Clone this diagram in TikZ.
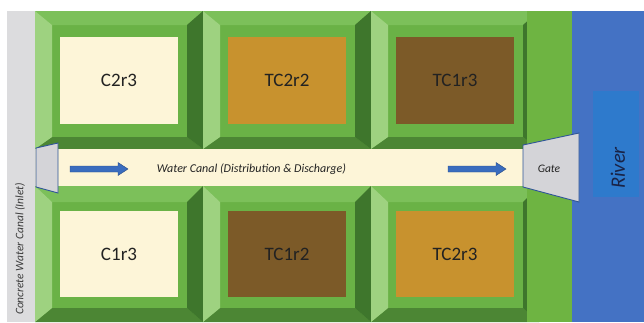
\documentclass[tikz,border=0pt]{standalone}
\usepackage{fontspec}
\setmainfont{Carlito}
\definecolor{bvflat}{RGB}{106,178,70}
\definecolor{bvtop}{RGB}{124,192,90}
\definecolor{bvleft}{RGB}{158,210,128}
\definecolor{bvright}{RGB}{62,118,44}
\definecolor{bvbot}{RGB}{76,134,52}
\definecolor{cream}{RGB}{253,245,216}
\definecolor{ochre}{RGB}{200,146,46}
\definecolor{soil}{RGB}{124,90,40}
\definecolor{concrete}{RGB}{220,220,222}
\definecolor{strip}{RGB}{110,180,66}
\definecolor{river}{RGB}{68,114,196}
\definecolor{riverbox}{RGB}{46,122,204}
\definecolor{gatefill}{RGB}{212,212,216}
\definecolor{gateline}{RGB}{47,85,151}
\definecolor{arrowblue}{RGB}{58,108,190}
\definecolor{txt}{RGB}{34,34,34}
\newcommand\fieldblock[9]{%
  % #1 x0, #2 y0, #3 y1, #4 top bevel, #5 bottom bevel, #6 cy0, #7 cy1, #8 colour, #9 label
  \fill[bvflat] (#1,#2) rectangle ({#1+168},#3);
  \fill[bvtop] (#1,#2) -- ({#1+168},#2) -- ({#1+152},{#2+#4}) -- ({#1+17},{#2+#4}) -- cycle;
  \fill[bvbot] (#1,#3) -- ({#1+168},#3) -- ({#1+152},{#3-#5}) -- ({#1+17},{#3-#5}) -- cycle;
  \fill[bvleft] (#1,#2) -- ({#1+17},{#2+#4}) -- ({#1+17},{#3-#5}) -- (#1,#3) -- cycle;
  \fill[bvright] ({#1+168},#2) -- ({#1+152},{#2+#4}) -- ({#1+152},{#3-#5}) -- ({#1+168},#3) -- cycle;
  \fill[#8] ({#1+25},#6) rectangle ({#1+143},#7);
  \node[fieldlabel] (#9) at ({#1+84},{(#6+#7)/2}) {#9};
}
\begin{document}
\begin{tikzpicture}[x=1pt,y=-1pt,
  fieldlabel/.style={text=txt,font=\fontsize{19}{21}\selectfont,inner sep=0pt},
  smalllabel/.style={text=txt,font=\fontsize{12}{14}\selectfont\itshape,inner sep=0pt},
  gateshape/.style={fill=gatefill,draw=gateline,line width=0.9pt,line join=miter},
  flowarrow/.style={fill=arrowblue,draw=arrowblue!70!black,line width=0.4pt}]
\useasboundingbox (0,0) rectangle (644,322);
\fill[white] (0,0) rectangle (644,322);
% concrete inlet canal
\fill[concrete] (7,11) rectangle (35,322);
\node[smalllabel,font=\fontsize{11.5}{13}\selectfont\itshape,text={rgb,255:red,60;green,60;blue,60},rotate=90] (inlet) at (20,249) {Concrete Water Canal (Inlet)};
% top row
\fieldblock{35}{11}{149}{14}{12}{37}{124}{cream}{C2r3}
\fieldblock{203}{11}{149}{14}{12}{37}{124}{ochre}{TC2r2}
\fieldblock{371}{11}{149}{14}{12}{37}{124}{soil}{TC1r3}
% bottom row
\fieldblock{35}{186}{322}{16}{14}{211}{297}{cream}{C1r3}
\fieldblock{203}{186}{322}{16}{14}{211}{297}{soil}{TC1r2}
\fieldblock{371}{186}{322}{16}{14}{211}{297}{ochre}{TC2r3}
% canal
\fill[cream] (35,149) rectangle (527,186);
\node[smalllabel] (canal) at (251.5,169) {Water Canal (Distribution \& Discharge)};
% flow arrows
\filldraw[flowarrow] (70,166) -- (118,166) -- (118,162.5) -- (128,169) -- (118,175.5) -- (118,172) -- (70,172) -- cycle;
\filldraw[flowarrow] (448,166) -- (496,166) -- (496,162.5) -- (506,169) -- (496,175.5) -- (496,172) -- (448,172) -- cycle;
% green strip
\fill[strip] (527,11) rectangle (572,322);
% river
\fill[river] (572,11) rectangle (644,322);
\fill[riverbox] (593,91) rectangle (639,197);
\node[text={rgb,255:red,25;green,35;blue,70},font=\fontsize{20.5}{22}\selectfont\itshape,rotate=90,inner sep=0pt] (river) at (618,168) {River};
% gates
\filldraw[gateshape] (36,148) -- (58,143) -- (58,193) -- (36,187) -- cycle;
\filldraw[gateshape] (523,145) -- (579,133) -- (579,202) -- (523,187) -- cycle;
\node[smalllabel,font=\fontsize{11.5}{13}\selectfont\itshape] (gate) at (549,169) {Gate};
\end{tikzpicture}
\end{document}
